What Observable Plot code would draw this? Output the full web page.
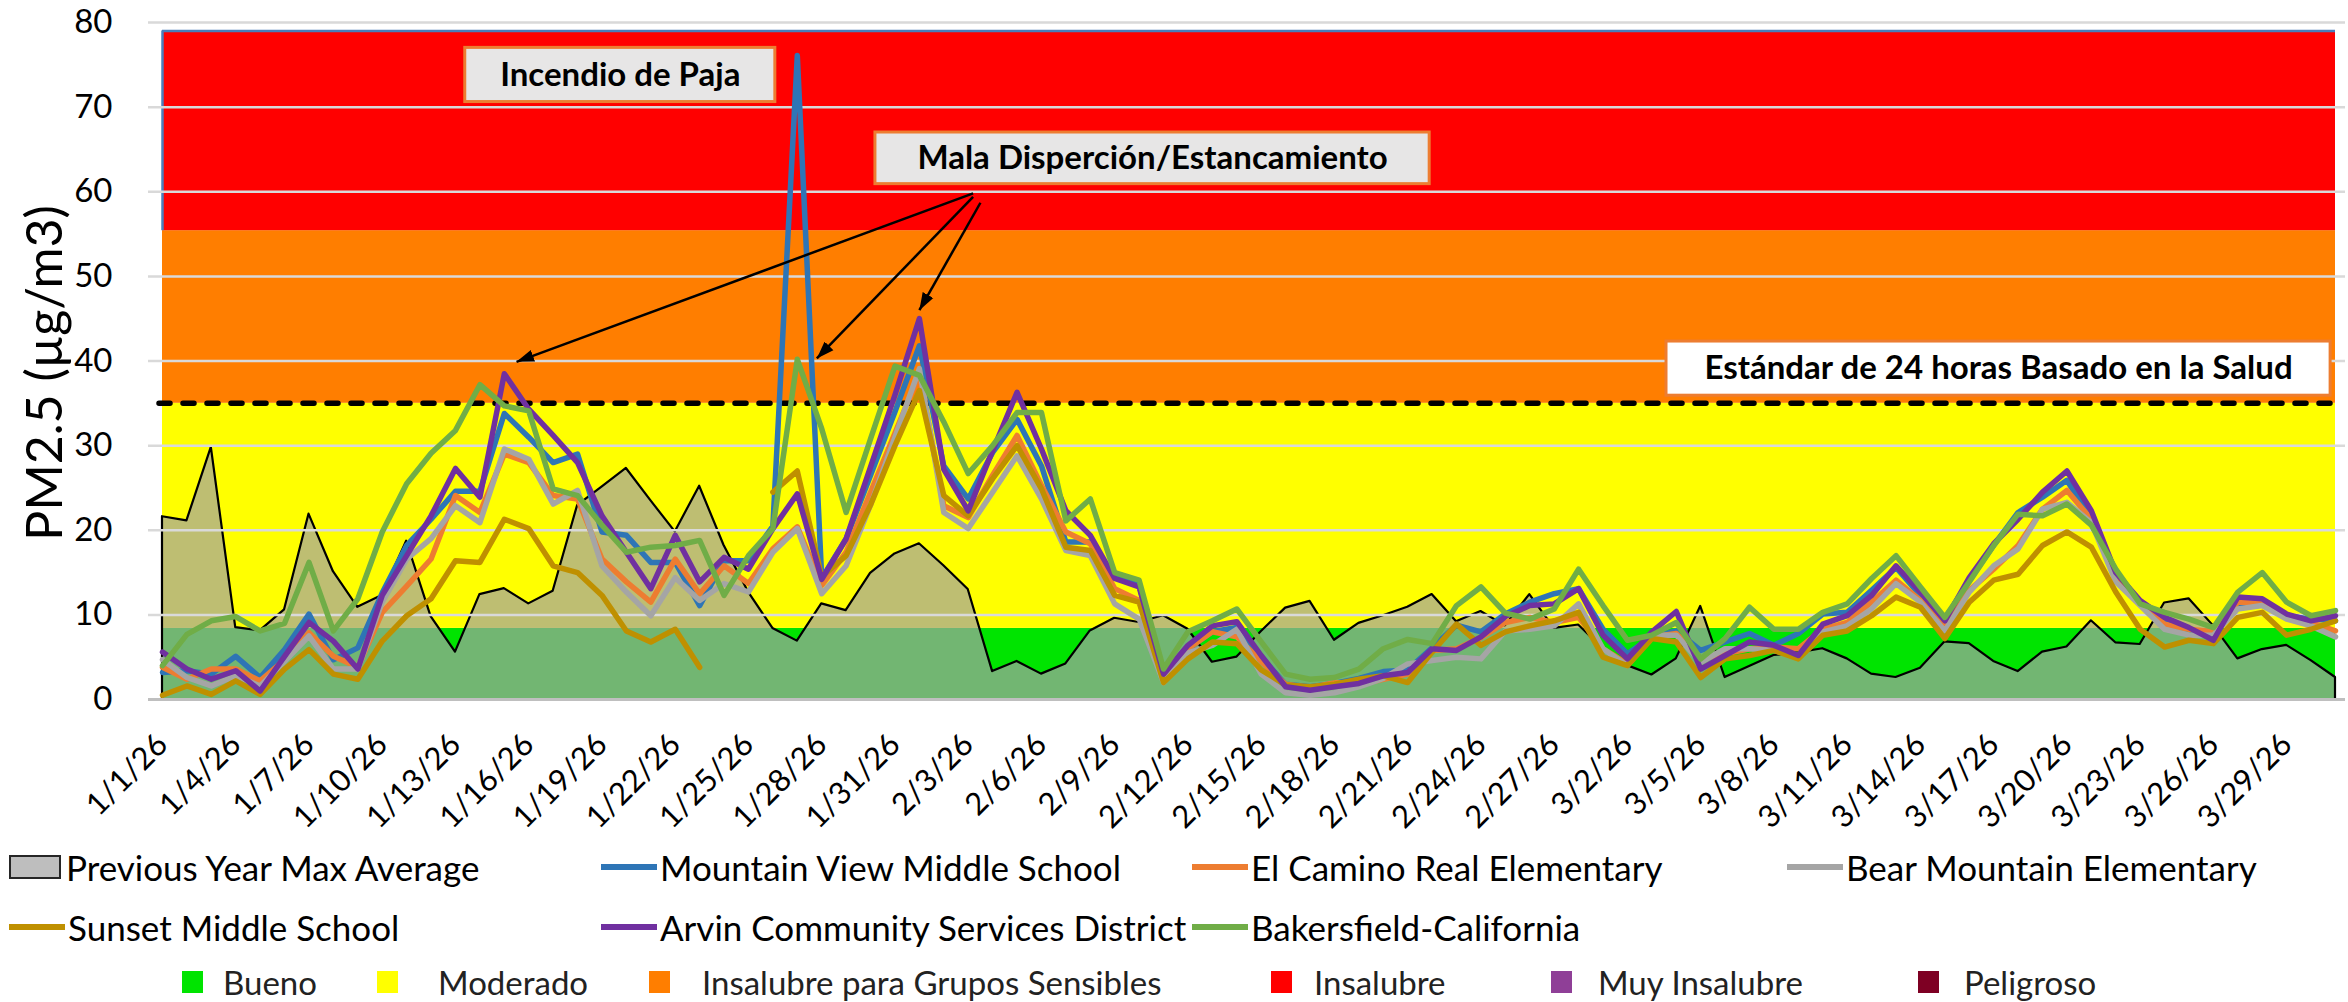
<!DOCTYPE html>
<html>
<head>
<meta charset="utf-8">
<script src="https://cdn.jsdelivr.net/npm/d3@7"></script>
<script src="https://cdn.jsdelivr.net/npm/@observablehq/plot@0.6"></script>
<style>
  body { margin: 0; background: #fff; font-family: Lato, "Open Sans", sans-serif; }
  #wrap { position: relative; width: 2348px; height: 1002px; overflow: hidden; background: #fff; }
  #plot { position: absolute; left: 0; top: 0; }
  #legend { position: absolute; left: 0; top: 840px; width: 2348px; height: 162px; }
  .item { position: absolute; display: flex; align-items: center; white-space: nowrap; font-size: 35px; color: #000; transform: translateY(-50%); }
  .sw-line { width: 56px; height: 6px; margin-right: 3px; }
  .sw-box { width: 48px; height: 20px; border: 2px solid #262626; margin-right: 5px; background: #bebebe; }
  .sq { position: absolute; width: 21px; height: 22px; transform: translateY(-50%); }
  .cat { position: absolute; font-size: 33px; color: #222; transform: translateY(-50%); white-space: nowrap; }
</style>
</head>
<body>
<div id="wrap">
  <div id="plot"></div>
  <div id="legend"></div>
</div>
<script>
// ---------- data ----------
const dayLabels = d3.utcDay
  .range(new Date(Date.UTC(2026, 0, 1)), new Date(Date.UTC(2026, 3, 1)))
  .map(d3.utcFormat("%-m/%-d/%y"));
const xTickIndex = d3.range(0, 90, 3);
const yTicks = [0, 10, 20, 30, 40, 50, 60, 70, 80];

const previousYearMax = [21.6,21.1,29.8,8.5,8.1,10.6,21.9,15.1,10.9,12.3,18.7,9.8,5.6,12.4,13.1,11.3,12.8,22.9,25.1,27.3,23.5,19.8,25.2,18.2,12.7,8.4,6.9,11.3,10.5,14.9,17.2,18.4,15.8,13.0,3.3,4.5,3.0,4.2,8.1,9.6,9.1,9.9,8.3,4.4,5.0,8.0,10.8,11.6,7.0,9.0,9.9,10.9,12.4,9.2,10.4,8.7,12.4,8.4,8.8,6.0,4.0,2.9,4.8,11.0,2.6,3.9,5.2,5.5,6.0,4.8,3.0,2.6,3.7,6.8,6.6,4.5,3.3,5.6,6.2,9.3,6.7,6.5,11.4,11.9,8.7,4.8,5.9,6.4,4.6,2.6];
const mountainView = [3.2,3.4,3.0,5.1,2.6,5.9,10.1,4.7,6.1,12.6,18.2,21.3,24.6,24.6,33.8,31.0,28.0,29.0,19.8,19.4,16.2,16.2,11.1,16.4,16.4,20.5,76.1,14.3,19.0,26.5,34.0,41.8,27.6,23.7,29.2,33.1,27.6,18.6,18.6,14.6,13.5,2.8,6.0,8.0,8.5,5.0,1.8,1.5,1.9,2.5,3.3,3.5,6.1,8.8,8.0,10.1,11.5,12.5,13.1,8.3,5.4,7.4,8.1,5.8,6.8,7.8,6.4,7.8,10.1,10.3,12.9,15.6,12.3,9.5,14.1,18.2,22.1,23.9,25.9,21.3,14.6,11.5,9.1,8.3,7.6,11.1,11.5,9.9,9.5,9.3];
const elCamino = [3.8,2.4,3.6,3.6,2.2,4.7,7.9,5.1,3.8,10.3,13.4,16.6,24.1,22.1,29.0,28.0,24.1,23.7,16.6,13.9,11.5,16.6,12.5,15.8,13.7,17.8,20.4,13.5,17.4,24.5,31.5,38.5,22.9,21.5,26.5,31.2,25.3,19.8,18.4,13.1,11.7,2.4,6.0,8.0,7.4,4.5,1.8,1.4,2.0,1.8,2.4,3.0,5.8,6.0,7.3,9.1,9.7,9.1,9.7,6.0,4.2,7.4,7.8,4.8,5.4,6.0,6.2,6.0,8.3,9.1,11.5,14.1,11.7,8.5,12.9,15.4,18.2,22.5,24.7,21.3,14.6,11.5,8.9,8.3,8.0,11.5,11.5,9.7,9.1,8.1];
const bearMountain = [4.7,2.6,1.6,2.8,1.6,4.5,7.5,3.6,3.6,11.5,16.6,19.0,22.9,20.9,29.6,28.4,23.1,24.7,15.8,12.7,9.9,14.4,11.7,13.7,12.7,17.4,20.2,12.5,15.8,23.0,31.0,39.1,22.1,20.2,24.5,28.8,23.7,17.6,17.0,11.3,9.5,2.0,5.5,6.4,8.3,3.0,0.8,0.5,0.8,1.5,2.5,4.2,4.6,5.0,4.8,8.1,8.3,8.7,11.3,6.0,4.0,7.6,7.6,4.4,6.0,6.0,5.8,5.0,8.0,8.7,10.7,13.7,11.5,8.1,12.7,15.8,17.8,22.5,23.3,20.9,13.9,11.1,8.3,7.6,7.6,10.7,11.1,9.5,8.7,7.4];
const sunset = [0.5,1.6,0.6,2.2,0.6,3.6,5.9,3.0,2.4,6.9,9.9,11.9,16.4,16.2,21.3,20.2,15.8,15.0,12.3,8.1,6.8,8.3,3.8,null,null,24.5,27.0,14.5,17.0,23.0,30.0,36.5,24.1,21.7,26.1,30.0,24.9,18.0,17.6,12.3,11.5,2.0,4.8,6.8,6.6,3.5,1.7,1.5,1.8,2.4,2.8,2.0,5.6,8.9,6.4,8.0,8.7,9.3,10.3,5.0,4.0,7.2,6.8,2.6,4.8,5.2,5.8,4.8,7.6,8.1,9.9,12.1,10.9,7.2,11.5,14.1,14.8,18.2,19.8,18.0,12.7,8.3,6.2,7.0,6.6,9.7,10.3,7.6,8.3,9.3];
const arvin = [5.6,3.6,2.4,3.4,1.0,5.1,9.1,6.9,3.6,12.3,17.0,21.7,27.3,23.9,38.5,34.3,31.2,28.0,21.7,17.4,13.1,19.4,13.9,16.8,15.4,20.2,24.3,14.2,19.0,27.5,36.0,45.0,27.2,22.3,29.4,36.3,29.6,22.3,19.4,14.3,13.3,3.0,6.4,8.7,9.2,5.2,1.5,1.1,1.5,1.9,2.8,3.2,6.0,5.8,7.4,9.8,11.1,11.3,13.1,7.6,4.8,8.0,10.4,3.6,5.2,6.8,6.4,5.2,8.9,9.9,12.3,15.8,12.7,9.3,14.4,18.4,21.3,24.5,27.0,22.3,15.0,11.7,9.7,8.5,7.0,12.1,11.9,10.1,9.3,9.9];
const bakersfield = [4.0,7.7,9.3,9.8,8.1,9.0,16.2,8.1,11.9,19.8,25.5,29.1,31.8,37.2,34.7,34.1,24.9,24.1,20.6,17.4,18.0,18.2,18.8,12.3,17.0,20.2,40.2,32.0,22.1,30.8,39.4,38.3,32.8,26.7,30.0,33.9,33.9,21.1,23.7,15.0,14.1,3.6,8.0,9.3,10.7,6.8,3.0,2.4,2.6,3.6,6.0,7.1,6.6,11.1,13.3,10.2,9.5,10.7,15.4,11.1,7.0,7.6,9.1,4.8,7.2,10.9,8.3,8.3,10.3,11.3,14.3,17.0,13.3,9.7,13.9,18.2,21.9,21.7,23.1,20.6,15.4,11.3,10.3,9.5,8.5,12.7,15.0,11.5,9.9,10.5];

const seriesNames = ["Mountain View Middle School", "El Camino Real Elementary", "Bear Mountain Elementary", "Sunset Middle School", "Arvin Community Services District", "Bakersfield-California"];
const seriesValues = [mountainView, elCamino, bearMountain, sunset, arvin, bakersfield];
const seriesColors = ["#2e75b6", "#ed7d31", "#a5a5a5", "#bf9000", "#7030a0", "#70ad47"];
const areaName = "Previous Year Max Average";

// AQI category bands
const bandNames = ["Bueno", "Moderado", "Insalubre para Grupos Sensibles", "Insalubre"];
const bandLow = [0, 8.4, 35, 55.4];
const bandHigh = [8.4, 35, 55.4, 79];
const bandColors = ["#00e400", "#ffff00", "#ff7e00", "#ff0000"];
const categoryNames = ["Bueno", "Moderado", "Insalubre para Grupos Sensibles", "Insalubre", "Muy Insalubre", "Peligroso"];
const categoryColors = ["#00e400", "#ffff00", "#ff7e00", "#ff0000", "#8f3f97", "#7e0023"];

const standardValue = 35;
const standardLabel = "Estándar de 24 horas Basado en la Salud";

// annotation boxes (data coordinates: day index, µg/m3)
const noteText = ["Incendio de Paja", "Mala Disperción/Estancamiento", standardLabel];
const noteX1 = [12.4, 29.2, 61.6];
const noteX2 = [25.1, 51.9, 88.8];
const noteY1 = [70.6, 60.9, 35.9];
const noteY2 = [77.0, 67.0, 42.3];
const noteFill = ["#e7e6e6", "#e7e6e6", "#ffffff"];

// arrows from the "Mala Disperción" box
const arrowFromX = [33.2, 33.2, 33.5];
const arrowFromY = [59.8, 59.4, 58.7];
const arrowToX = [14.5, 26.8, 31.0];
const arrowToY = [39.9, 40.3, 46.0];

// ---------- tables ----------
const areaRows = previousYearMax.map((v, i) => ({i, v}));
const lineRows = seriesNames.flatMap((s, k) => seriesValues[k].map((v, i) => ({i, v, s})));
const bands = bandNames.map((n, k) => ({n, lo: bandLow[k], hi: bandHigh[k], c: bandColors[k]}));
const notes = noteText.map((t, k) => ({t, x1: noteX1[k], x2: noteX2[k], y1: noteY1[k], y2: noteY2[k], f: noteFill[k]}));
const arrows = arrowFromX.map((x, k) => ({x1: x, y1: arrowFromY[k], x2: arrowToX[k], y2: arrowToY[k]}));
const lastIndex = previousYearMax.length - 1;

const font = "Lato, 'Open Sans', sans-serif";

const chart = Plot.plot({
  width: 2348,
  height: 840,
  marginLeft: 162,
  marginRight: 13,
  marginTop: 22,
  marginBottom: 141,
  x: {domain: [0, lastIndex]},
  y: {domain: [0, 80]},
  color: {domain: seriesNames, range: seriesColors},
  style: {fontFamily: font, background: "transparent", color: "#000"},
  marks: [
    Plot.rect(bands, {x1: () => 0, x2: () => lastIndex, y1: "lo", y2: "hi", fill: "c"}),
    Plot.ruleY([bandHigh[3]], {stroke: "#4a7ebb", strokeWidth: 2.5}),
    Plot.ruleX([0], {y1: bandLow[3], y2: bandHigh[3], stroke: "#4a7ebb", strokeWidth: 2.5}),
    Plot.areaY(areaRows, {x: "i", y: "v", fill: "#a3a3a3", fillOpacity: 0.7, stroke: "#000", strokeWidth: 2.2}),
    Plot.ruleY(yTicks.slice(1), {stroke: "#d9d9d9", strokeWidth: 2.5, insetLeft: -14, insetRight: -10}),
    Plot.ruleY([0], {stroke: "#bfbfbf", strokeWidth: 3, insetLeft: -14, insetRight: -10}),
    Plot.ruleY([standardValue], {stroke: "#000", strokeWidth: 5.5, strokeDasharray: "11,13", strokeLinecap: "round", insetLeft: -3}),
    Plot.lineY(lineRows, {x: "i", y: "v", z: "s", stroke: "s", strokeWidth: 5.5}),
    Plot.link(arrows, {x1: "x1", y1: "y1", x2: "x2", y2: "y2", stroke: "#000", strokeWidth: 2.5, markerEnd: "arrow"}),
    Plot.rect(notes, {x1: "x1", x2: "x2", y1: "y1", y2: "y2", fill: "f", stroke: "#ed7d31", strokeWidth: 3}),
    Plot.text(notes, {x: d => (d.x1 + d.x2) / 2, y: d => (d.y1 + d.y2) / 2, text: "t", fontSize: 33, fontWeight: "bold", fill: "#000"}),
    Plot.axisY({ticks: yTicks, tickSize: 0, tickPadding: 50, fontSize: 33, label: null}),
    Plot.text(["PM2.5 (µg/m3)"], {y: 38.6, frameAnchor: "left", textAnchor: "middle", dx: -117, rotate: -90, fontSize: 50, text: d => d, fill: "#000"}),
    Plot.axisX({ticks: xTickIndex, tickFormat: i => dayLabels[i], tickRotate: -45, tickSize: 0, tickPadding: 40, fontSize: 31, label: null})
  ]
});

// filled arrow heads
chart.querySelectorAll("marker").forEach(m => {
  m.setAttribute("viewBox", "-5 -5 10 10");
  m.setAttribute("markerWidth", "7");
  m.setAttribute("markerHeight", "7");
  m.setAttribute("refX", "5");
  m.setAttribute("fill", "#000");
  m.setAttribute("stroke", "none");
  m.innerHTML = '<path d="M-5,-3.5L5,0L-5,3.5Z"></path>';
});

document.getElementById("plot").appendChild(chart);

// ---------- legend ----------
const legend = document.getElementById("legend");
const legendColX = [9, 601, 1192, 1787];
const legendRowY = [27, 87];
const legendEntries = [{name: areaName, type: "box"}].concat(seriesNames.map((n, k) => ({name: n, type: "line", color: seriesColors[k]})));
legendEntries.forEach((e, k) => {
  const el = document.createElement("div");
  el.className = "item";
  el.style.left = legendColX[k % 4] + "px";
  el.style.top = legendRowY[Math.floor(k / 4)] + "px";
  const sw = document.createElement("span");
  if (e.type === "box") { sw.className = "sw-box"; }
  else { sw.className = "sw-line"; sw.style.background = e.color; }
  el.appendChild(sw);
  const tx = document.createElement("span");
  tx.textContent = e.name;
  el.appendChild(tx);
  legend.appendChild(el);
});
const catSquareX = [182, 377, 649, 1271, 1551, 1918];
const catTextX = [223, 438, 702, 1314, 1598, 1964];
const catRowY = 142;
categoryNames.forEach((n, k) => {
  const sq = document.createElement("div");
  sq.className = "sq";
  sq.style.left = catSquareX[k] + "px";
  sq.style.top = catRowY + "px";
  sq.style.background = categoryColors[k];
  legend.appendChild(sq);
  const tx = document.createElement("div");
  tx.className = "cat";
  tx.style.left = catTextX[k] + "px";
  tx.style.top = catRowY + "px";
  tx.textContent = n;
  legend.appendChild(tx);
});
</script>
</body>
</html>
